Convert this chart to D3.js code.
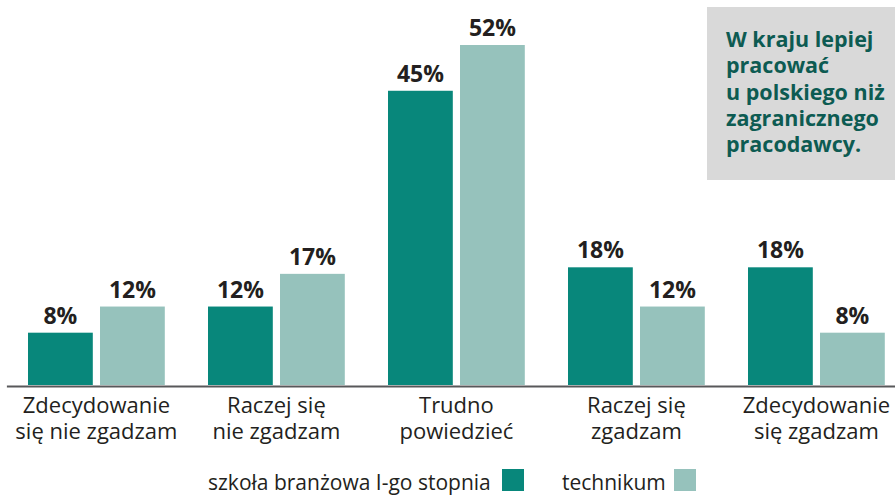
<!DOCTYPE html>
<html>
<head>
<meta charset="utf-8">
<script src="https://cdn.jsdelivr.net/npm/d3@7"></script>
<style>
  html, body { margin: 0; padding: 0; background: #fff; }
  svg { display: block; font-family: "Open Sans", sans-serif; }
</style>
</head>
<body>
<div id="chart"></div>
<script>
// chart values
const categories = [
  ["Zdecydowanie", "się nie zgadzam"],
  ["Raczej się", "nie zgadzam"],
  ["Trudno", "powiedzieć"],
  ["Raczej się", "zgadzam"],
  ["Zdecydowanie", "się zgadzam"],
];
const seriesNames = ["szkoła branżowa I-go stopnia", "technikum"];
const branzowa = [8, 12, 45, 18, 18];
const technikum = [12, 17, 52, 12, 8];
const noteLines = ["W kraju lepiej", "pracować", "u polskiego niż", "zagranicznego", "pracodawcy."];

const width = 895;
const height = 495;
const colors = ["#08877b", "#96c2bc"];
const textColor = "#231f20";
const noteColor = "#0d5b52";

const svg = d3
  .select("#chart")
  .append("svg")
  .attr("width", width)
  .attr("height", height);

const keys = categories.map((d, i) => i);

// outer band per answer, inner band per school type
const x0 = d3.scaleBand().domain(keys).range([6.4, 906.4]).paddingInner(0.24).paddingOuter(0.12);
const x1 = d3.scaleBand().domain([0, 1]).range([0, x0.bandwidth()]).paddingInner(0.1);
const y = d3.scaleLinear().domain([0, 52]).range([385, 45]);

const rows = keys.map((i) => [branzowa[i], technikum[i]]);

const groups = svg
  .append("g")
  .selectAll("g")
  .data(rows)
  .join("g")
  .attr("transform", (d, i) => `translate(${x0(i)},0)`);

groups
  .selectAll("rect")
  .data((d) => d)
  .join("rect")
  .attr("x", (d, j) => x1(j))
  .attr("y", (d) => y(d))
  .attr("width", x1.bandwidth())
  .attr("height", (d) => y(0) - y(d))
  .attr("fill", (d, j) => colors[j]);

groups
  .selectAll("text")
  .data((d) => d)
  .join("text")
  .attr("x", (d, j) => x1(j) + x1.bandwidth() / 2)
  .attr("y", (d) => y(d) - 9)
  .attr("text-anchor", "middle")
  .attr("font-size", "23px")
  .attr("font-weight", "bold")
  .attr("fill", textColor)
  .text((d) => `${d}%`);

// x axis with two-line labels
const xAxis = d3.axisBottom(x0).tickSize(0).tickSizeOuter(0).tickFormat("");
const axisG = svg.append("g").attr("transform", "translate(0,386)").call(xAxis);
axisG.select(".domain").attr("stroke", "#58585a").attr("stroke-width", 2);

axisG
  .selectAll(".tick text")
  .attr("y", 0)
  .attr("dy", null)
  .attr("font-family", "Open Sans, sans-serif")
  .attr("font-size", "22px")
  .attr("fill", textColor)
  .each(function (d) {
    const t = d3.select(this);
    categories[d].forEach((line, k) => {
      t.append("tspan").attr("x", 0).attr("y", 27 + k * 26).text(line);
    });
  });

// legend
const legend = svg.append("g").attr("font-size", "21px").attr("fill", textColor);
const legendItems = [
  { text: seriesNames[0], x: 208, box: 502 },
  { text: seriesNames[1], x: 562, box: 674 },
];
legendItems.forEach((d, i) => {
  legend.append("text").attr("x", d.x).attr("y", 490).attr("fill", textColor).text(d.text);
  legend
    .append("rect")
    .attr("x", d.box)
    .attr("y", 469)
    .attr("width", 22)
    .attr("height", 22)
    .attr("fill", colors[i]);
});

// note box in the top right corner
svg.append("rect").attr("x", 707).attr("y", 7).attr("width", 200).attr("height", 173).attr("fill", "#d9d9d9");
svg
  .append("g")
  .attr("font-size", "21.5px")
  .attr("font-weight", "bold")
  .attr("fill", noteColor)
  .selectAll("text")
  .data(noteLines)
  .join("text")
  .attr("x", 726)
  .attr("y", (d, i) => 47 + i * 26.3)
  .text((d) => d);
</script>
</body>
</html>
